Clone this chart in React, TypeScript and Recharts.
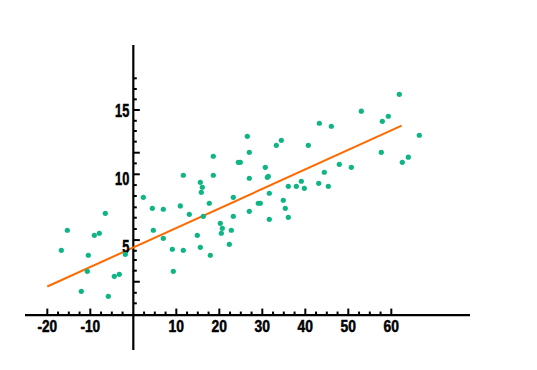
import React from 'react';
import { ScatterChart, Scatter, XAxis, YAxis, ReferenceLine } from 'recharts';

const pointX = [
  2.33, 4.42, 6.98, 10.93, 13.02, -6.51, -15.35, -9.07, -7.91, 4.65,
  -16.74, -10.47, -1.86, 6.98, 9.07, 11.63, -10.7, -4.42, -3.26, 9.3,
  -12.09, -5.81, 26.51, 18.6, 26.98, 33.26, 34.42, 40.7, 24.42, 24.88,
  11.63, 18.6, 26.98, 30.7, 31.16, 31.4, 15.58, 16.05, 15.81, 36.05,
  37.91, 39.07, 39.77, 43.12, 31.63, 23.26, 17.67, 34.88, 29.07, 29.53,
  16.28, 26.98, 35.35, 23.26, 36.05, 31.63, 20.23, 20.7, 20.47, 22.79,
  14.88, 22.33, 15.58, 17.91, 61.86, 53.02, 57.91, 59.3, 43.26, 46.05,
  66.51, 57.67, 62.56, 63.95, 47.91, 50.7, 44.42, 45.35,
];
const pointY = [
  8.62, 7.82, 7.75, 7.99, 7.38, 7.45, 6.21, 5.84, 5.99, 6.21,
  4.74, 4.38, 4.45, 5.62, 4.82, 4.74, 3.2, 2.84, 2.98, 3.2,
  1.74, 1.37, 13.09, 11.63, 11.92, 12.43, 12.8, 12.43, 11.19, 11.19,
  10.24, 10.24, 10.02, 10.82, 10.09, 10.16, 9.72, 9.36, 8.99, 9.43,
  9.43, 9.8, 9.28, 9.65, 8.92, 8.62, 8.19, 8.41, 8.19, 8.19,
  7.23, 7.6, 7.82, 7.23, 7.16, 7.01, 6.72, 6.35, 5.99, 6.21,
  5.84, 5.18, 4.96, 4.38, 16.17, 14.93, 14.19, 14.56, 14.05, 13.83,
  13.17, 11.92, 11.19, 11.56, 11.04, 10.82, 10.46, 9.43,
];
const fitX = [-20, 62.4];
const fitY = [2.09, 13.87];

const xLabels = [-20, -10, 10, 20, 30, 40, 50, 60];
const xMinorTicks = [
  -17.5, -15, -12.5, -7.5, -5, -2.5, 2.5, 5, 7.5, 12.5, 15, 17.5, 22.5, 25, 27.5,
  32.5, 35, 37.5, 42.5, 45, 47.5, 52.5, 55, 57.5,
];
const yLabels = [5, 10, 15];
const yMajorTicks = [15.02, 11.89, 10.31, 5.49, 2.44];
const yMinorTicks = [
  17.34, 16.56, 15.8, 14.23, 13.48, 12.7, 11.11, 9.52, 8.72, 7.89, 7.13, 6.3,
  4.71, 4.03, 3.25, 1.63, 0.86,
];

const X_DOMAIN: [number, number] = [-25.19, 78.3];
const Y_DOMAIN: [number, number] = [-2.56, 19.78];

const points = pointX.map((x, i) => ({ x, y: pointY[i] }));
const xLabelData = xLabels.map((v) => ({ x: v, y: 0, label: String(v) }));
const xMajorData = xLabels.map((v) => ({ x: v, y: 0 }));
const xMinorData = xMinorTicks.map((v) => ({ x: v, y: 0 }));
const yLabelData = yLabels.map((v) => ({ x: 0, y: v, label: String(v) }));
const yMajorData = yMajorTicks.map((v) => ({ x: 0, y: v }));
const yMinorData = yMinorTicks.map((v) => ({ x: 0, y: v }));

const DOT = '#10b585';
const ORANGE = '#ff6a00';
const FONT = "'Liberation Sans', Arial, sans-serif";

const textWidth = (s: string, digit: number) =>
  s.split('').reduce((w, c) => w + (c === '-' ? 4.3 : digit), 0);

const Dot = (p: any) => <circle cx={p.cx} cy={p.cy} r={2.6} fill={DOT} />;
const XTick = (len: number) => (p: any) => (
  <line x1={p.cx} x2={p.cx} y1={p.cy} y2={p.cy - len} stroke="#000" strokeWidth={2} />
);
const YTick = (len: number) => (p: any) => (
  <line x1={p.cx} x2={p.cx + len} y1={p.cy} y2={p.cy} stroke="#000" strokeWidth={2} />
);
const XLabel = (p: any) => (
  <text
    x={p.cx}
    y={p.cy + 17}
    textAnchor="middle"
    fontFamily={FONT}
    fontWeight={700}
    fontSize={16}
    fill="#000"
    stroke="#000"
    strokeWidth={0.5}
    textLength={textWidth(p.payload.label, 7.7)}
    lengthAdjust="spacingAndGlyphs"
  >
    {p.payload.label}
  </text>
);
const YLabel = (p: any) => (
  <text
    x={p.cx - 4}
    y={p.cy + 6.5}
    textAnchor="end"
    fontFamily={FONT}
    fontWeight={700}
    fontSize={17.5}
    fill="#000"
    stroke="#000"
    strokeWidth={0.5}
    textLength={textWidth(p.payload.label, 7.1)}
    lengthAdjust="spacingAndGlyphs"
  >
    {p.payload.label}
  </text>
);

export default function App() {
  return (
    <div style={{ position: 'absolute', left: 0, top: 0, width: 537, height: 370, background: '#fff' }}>
      <ScatterChart width={537} height={370} margin={{ top: 45, right: 67, bottom: 20, left: 25 }}>
        <XAxis type="number" dataKey="x" domain={X_DOMAIN} allowDataOverflow hide />
        <YAxis type="number" dataKey="y" domain={Y_DOMAIN} allowDataOverflow hide />
        <ReferenceLine y={0} stroke="#000" strokeWidth={2.2} />
        <ReferenceLine x={0} stroke="#000" strokeWidth={2.2} />
        <Scatter data={xMinorData} shape={XTick(3.5)} isAnimationActive={false} />
        <Scatter data={xMajorData} shape={XTick(6.5)} isAnimationActive={false} />
        <Scatter data={yMinorData} shape={YTick(3.5)} isAnimationActive={false} />
        <Scatter data={yMajorData} shape={YTick(6.5)} isAnimationActive={false} />
        <Scatter data={xLabelData} shape={XLabel} isAnimationActive={false} />
        <Scatter data={yLabelData} shape={YLabel} isAnimationActive={false} />
        <Scatter data={points} shape={Dot} isAnimationActive={false} />
        <ReferenceLine
          segment={[
            { x: fitX[0], y: fitY[0] },
            { x: fitX[1], y: fitY[1] },
          ]}
          stroke={ORANGE}
          strokeWidth={2}
        />
      </ScatterChart>
    </div>
  );
}
